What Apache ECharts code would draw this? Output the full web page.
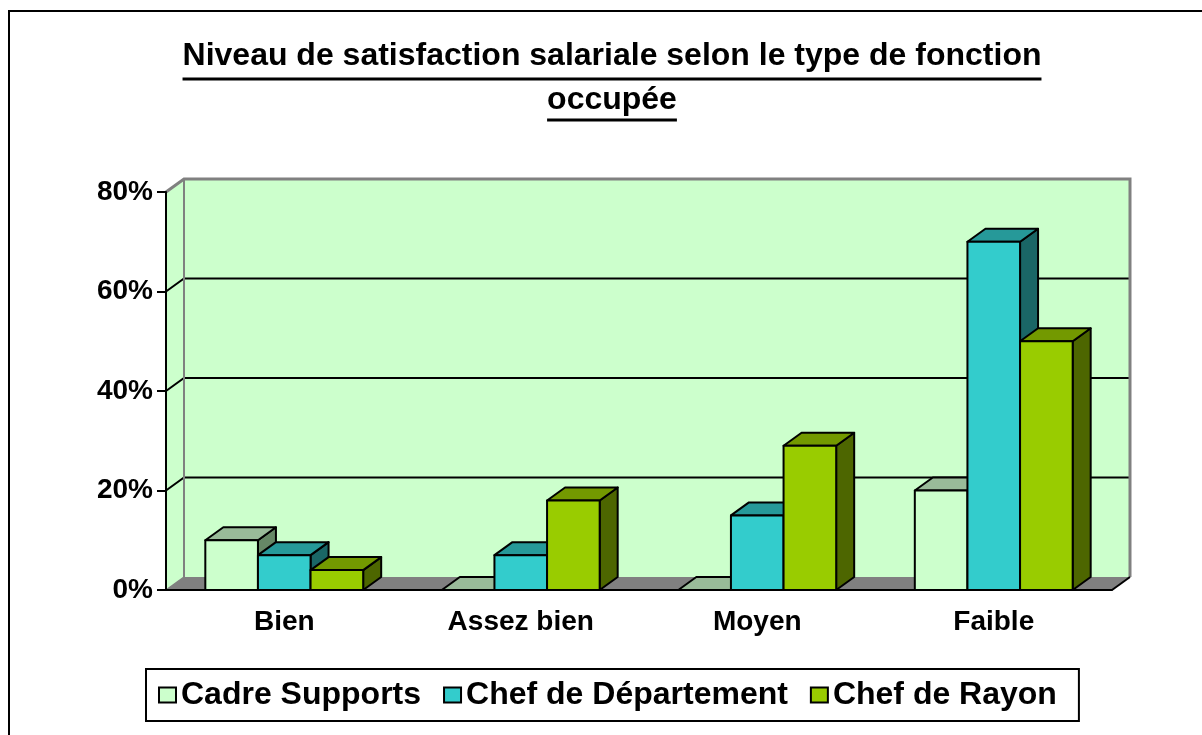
<!DOCTYPE html>
<html>
<head>
<meta charset="utf-8">
<script src="https://cdn.jsdelivr.net/npm/echarts@6/dist/echarts.min.js"></script>
<style>
	html, body { margin: 0; padding: 0; background: #fff; }
	#chart { width: 1202px; height: 735px; }
</style>
</head>
<body>
<div id="chart"></div>
<script>
// données (en %)
var categories = ['Bien', 'Assez bien', 'Moyen', 'Faible'];
var seriesNames = ['Cadre Supports', 'Chef de Département', 'Chef de Rayon'];
var cadreSupports = [10, 0, 0, 20];
var chefDepartement = [7, 7, 15, 70];
var chefRayon = [4, 18, 29, 50];
var yTicks = [0, 20, 40, 60, 80];
var titleLines = ['Niveau de satisfaction salariale selon le type de fonction', 'occupée'];

// couleurs : face avant, dessus, côté
var barColors = [
	['#CCFFCC', '#99BB99', '#668866'],
	['#33CCCC', '#269999', '#1A6666'],
	['#99CC00', '#739900', '#4D6600']
];
var FONT = '"Liberation Sans", Arial, sans-serif';
var DX = 18, DY = -13;   // profondeur 3D
var BAR_RATIO = 0.2225;

function textWidth(txt, size) {
	var c = document.createElement('canvas').getContext('2d');
	c.font = 'bold ' + size + 'px ' + FONT;
	return c.measureText(txt).width;
}

// murs, sol et quadrillage
function renderDecor(params, api) {
	var cs = params.coordSys;
	var gx = cs.x, gy = cs.y, gw = cs.width, gh = cs.height;
	var kids = [];
	kids.push({ type: 'rect', shape: { x: gx + DX, y: gy + DY, width: gw, height: gh }, style: { fill: '#CCFFCC' } });
	kids.push({ type: 'polygon', shape: { points: [[gx, gy], [gx + DX, gy + DY], [gx + DX, gy + gh + DY], [gx, gy + gh]] }, style: { fill: '#CCFFCC' } });
	kids.push({ type: 'polygon', shape: { points: [[gx, gy + gh], [gx + DX, gy + gh + DY], [gx + gw + DX, gy + gh + DY], [gx + gw, gy + gh]] }, style: { fill: '#808080' } });
	for (var i = 1; i < yTicks.length - 1; i++) {
		var y = api.coord([0, yTicks[i]])[1];
		kids.push({ type: 'polyline', shape: { points: [[gx, y], [gx + DX, y + DY], [gx + gw + DX, y + DY]] }, style: { stroke: '#000', lineWidth: 2, fill: null } });
	}
	kids.push({ type: 'polyline', shape: { points: [[gx, gy], [gx + DX, gy + DY], [gx + gw + DX, gy + DY], [gx + gw + DX, gy + gh + DY]] }, style: { stroke: '#808080', lineWidth: 3, fill: null } });
	kids.push({ type: 'line', shape: { x1: gx + DX, y1: gy + DY, x2: gx + DX, y2: gy + gh + DY }, style: { stroke: '#808080', lineWidth: 2 } });
	kids.push({ type: 'line', shape: { x1: gx, y1: gy + gh, x2: gx + DX, y2: gy + gh + DY }, style: { stroke: '#808080', lineWidth: 1.5 } });
	kids.push({ type: 'line', shape: { x1: gx + gw, y1: gy + gh, x2: gx + gw + DX, y2: gy + gh + DY }, style: { stroke: '#000', lineWidth: 2 } });
	return { type: 'group', children: kids };
}

// barre 3D
function makeBar(idx) {
	var col = barColors[idx];
	return function (params, api) {
		var base = api.coord([api.value(0), 0]);
		var top = api.coord([api.value(0), api.value(1)]);
		var w = api.size([1, 0])[0] * BAR_RATIO;
		var x0 = base[0] + (idx - 1.5) * w, x1 = x0 + w;
		var st = { stroke: '#000', lineWidth: 2, lineJoin: 'round' };
		return {
			type: 'group',
			children: [
				{ type: 'polygon', shape: { points: [[x1, top[1]], [x1 + DX, top[1] + DY], [x1 + DX, base[1] + DY], [x1, base[1]]] }, style: Object.assign({ fill: col[2] }, st) },
				{ type: 'polygon', shape: { points: [[x0, top[1]], [x0 + DX, top[1] + DY], [x1 + DX, top[1] + DY], [x1, top[1]]] }, style: Object.assign({ fill: col[1] }, st) },
				{ type: 'rect', shape: { x: x0, y: top[1], width: w, height: base[1] - top[1] }, style: Object.assign({ fill: col[0] }, st) }
			]
		};
	};
}

function toData(arr) {
	return arr.map(function (v, i) { return [i, v]; });
}

var chart = echarts.init(document.getElementById('chart'));

var titleSize = 32;
var w1 = textWidth(titleLines[0], titleSize);
var w2 = textWidth(titleLines[1], titleSize);
var cx = 612;

var option = {
	backgroundColor: '#fff',
	animation: false,
	graphic: [
		{ type: 'rect', shape: { x: 9, y: 11, width: 1220, height: 760 }, style: { fill: null, stroke: '#000', lineWidth: 2 } },
		{ type: 'text', x: cx, y: 72, style: { text: titleLines[0], font: 'bold ' + titleSize + 'px ' + FONT, fill: '#000', align: 'center', verticalAlign: 'bottom' } },
		{ type: 'rect', shape: { x: cx - w1 / 2, y: 77.5, width: w1, height: 3 }, style: { fill: '#000' } },
		{ type: 'text', x: cx, y: 116, style: { text: titleLines[1], font: 'bold ' + titleSize + 'px ' + FONT, fill: '#000', align: 'center', verticalAlign: 'bottom' } },
		{ type: 'rect', shape: { x: cx - w2 / 2, y: 118.5, width: w2, height: 3 }, style: { fill: '#000' } }
	],
	grid: { left: 166, right: 90, top: 192, bottom: 145 },
	legend: {
		data: seriesNames,
		icon: 'rect',
		left: 146,
		top: 669,
		padding: [10, 22, 10, 12],
		itemGap: 22,
		itemWidth: 17,
		itemHeight: 15,
		backgroundColor: '#fff',
		borderColor: '#000',
		borderWidth: 2,
		itemStyle: { borderColor: '#000', borderWidth: 2 },
		textStyle: { fontSize: 32, fontWeight: 'bold', color: '#000', fontFamily: FONT }
	},
	xAxis: {
		type: 'category',
		data: categories,
		z: 5,
		axisLine: { lineStyle: { color: '#000', width: 2 } },
		axisTick: { length: 7, lineStyle: { color: '#000', width: 1.5 } },
		axisLabel: { fontSize: 28, fontWeight: 'bold', color: '#000', fontFamily: FONT, margin: 18 },
		splitLine: { show: false }
	},
	yAxis: {
		type: 'value',
		min: 0,
		max: 80,
		interval: 20,
		z: 5,
		axisLine: { show: true, lineStyle: { color: '#000', width: 2 } },
		axisTick: { show: true, length: 9, lineStyle: { color: '#000', width: 2 } },
		axisLabel: { formatter: '{value}%', fontSize: 28, fontWeight: 'bold', color: '#000', fontFamily: FONT, margin: 13 },
		splitLine: { show: false }
	},
	series: [
		{ type: 'custom', name: 'decor', silent: true, z: 1, renderItem: renderDecor, data: [[0, 0]] },
		{ type: 'custom', name: seriesNames[0], z: 2, renderItem: makeBar(0), itemStyle: { color: barColors[0][0] }, data: toData(cadreSupports) },
		{ type: 'custom', name: seriesNames[1], z: 2, renderItem: makeBar(1), itemStyle: { color: barColors[1][0] }, data: toData(chefDepartement) },
		{ type: 'custom', name: seriesNames[2], z: 2, renderItem: makeBar(2), itemStyle: { color: barColors[2][0] }, data: toData(chefRayon) }
	]
};

chart.setOption(option);
</script>
</body>
</html>
